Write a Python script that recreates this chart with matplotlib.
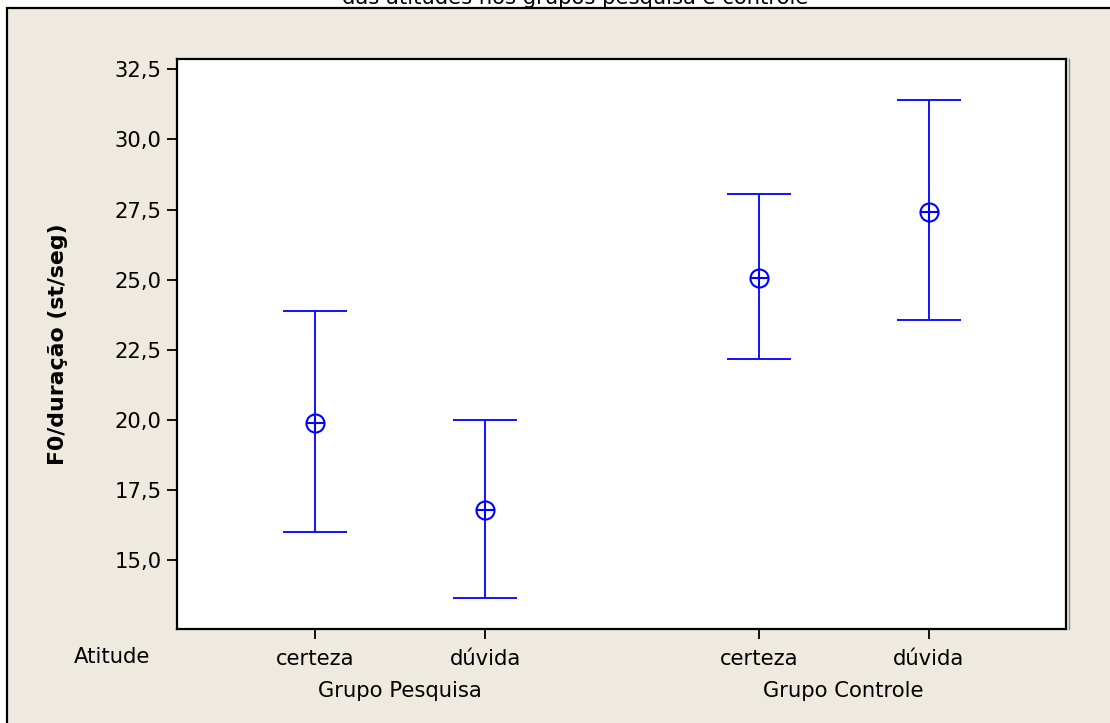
import matplotlib
matplotlib.use("Agg")
import matplotlib.pyplot as plt
import matplotlib.transforms as mtransforms
from matplotlib.patches import Rectangle
from matplotlib.lines import Line2D

# Interval plot: F0/duração by attitude within each group
groups = ["Grupo Pesquisa", "Grupo Controle"]
attitudes = ["certeza", "dúvida"]
means = [19.90, 16.79, 25.07, 27.42]
lower = [16.00, 13.65, 22.17, 23.57]
upper = [23.89, 20.00, 28.04, 31.40]
yticks = [15.0, 17.5, 20.0, 22.5, 25.0, 27.5, 30.0, 32.5]

W, H = 1110, 723
BG = "#EEEAE0"
BLUE = "#0000FF"
plt.rcParams["font.family"] = ["DejaVu Sans"]
FS = 15.2


def fig_y(px):
    return 1 - px / H


fig = plt.figure(figsize=(W / 100, H / 100), dpi=100, facecolor="white")

# partially visible title line at the very top
fig.text(575 / W, fig_y(4), "das atitudes nos grupos pesquisa e controle",
         ha="center", va="baseline", fontsize=FS, color="black", zorder=-20)

# beige panel with black frame (extends past right/bottom edges)
panel = Rectangle((7 / W, -0.2), 1.3, fig_y(8) + 0.2, transform=fig.transFigure,
                  facecolor=BG, edgecolor="black", lw=1.6, clip_on=False, zorder=-10)
fig.add_artist(panel)

ax = fig.add_axes([177 / W, fig_y(629), (1066 - 177) / W, (629 - 59) / H])
ax.set_zorder(1)
ax.set_facecolor("white")
for s in ax.spines.values():
    s.set_linewidth(1.6)
    s.set_color("black")

# x positions: two attitudes per group, wider gap between groups
step, group_gap = 1.0, 2.61
xpos = [gi * group_gap + ai * step + 1 for gi in range(len(groups)) for ai in range(len(attitudes))]

yerr = [[m - lo for m, lo in zip(means, lower)], [up - m for m, up in zip(means, upper)]]
ax.errorbar(xpos, means, yerr=yerr, fmt="none", ecolor=BLUE, elinewidth=1.3,
            capsize=23, capthick=1.3, zorder=3)
ax.plot(xpos, means, ls="none", marker="o", ms=13, mfc="white", mec=BLUE, mew=1.5, zorder=4)
ax.plot(xpos, means, ls="none", marker="+", ms=13, mec=BLUE, mew=1.5, zorder=5)

ax.set_xlim(0.188, 5.418)
ax.set_ylim(12.56, 32.86)

ax.set_yticks(yticks)
ax.set_yticklabels([f"{v:.1f}".replace(".", ",") for v in yticks])
ax.tick_params(axis="y", direction="out", length=7, width=1.3, pad=4, labelsize=FS)

ax.set_xticks(xpos)
ax.set_xticklabels(attitudes * len(groups))
ax.tick_params(axis="x", direction="out", length=7, width=1.3, pad=19, labelsize=FS)
for lbl in ax.get_xticklabels():
    lbl.set_va("baseline")

# row labels under the axis
fig.text(112 / W, fig_y(663), "Atitude", ha="center", va="baseline", fontsize=FS)
trans = mtransforms.blended_transform_factory(ax.transData, fig.transFigure)
for gi, g in enumerate(groups):
    xc = (xpos[gi * 2] + xpos[gi * 2 + 1]) / 2
    ax.text(xc, fig_y(697), g, transform=trans, ha="center", va="baseline",
            fontsize=FS, clip_on=False)

ax.set_ylabel("F0/duração (st/seg)", fontsize=15.8, fontweight="bold")
ax.yaxis.label.set_va("center")
ax.yaxis.label.set_rotation_mode("default")
ax.yaxis.set_label_coords((57.5 - 177) / (1066 - 177), 0.5)

# light shadow next to the right spine
fig.add_artist(Line2D([1068.5 / W] * 2, [fig_y(629), fig_y(59)], transform=fig.transFigure,
                      color="#8a8a8a", lw=1.0))

fig.savefig("out.png", dpi=100, facecolor=fig.get_facecolor())
